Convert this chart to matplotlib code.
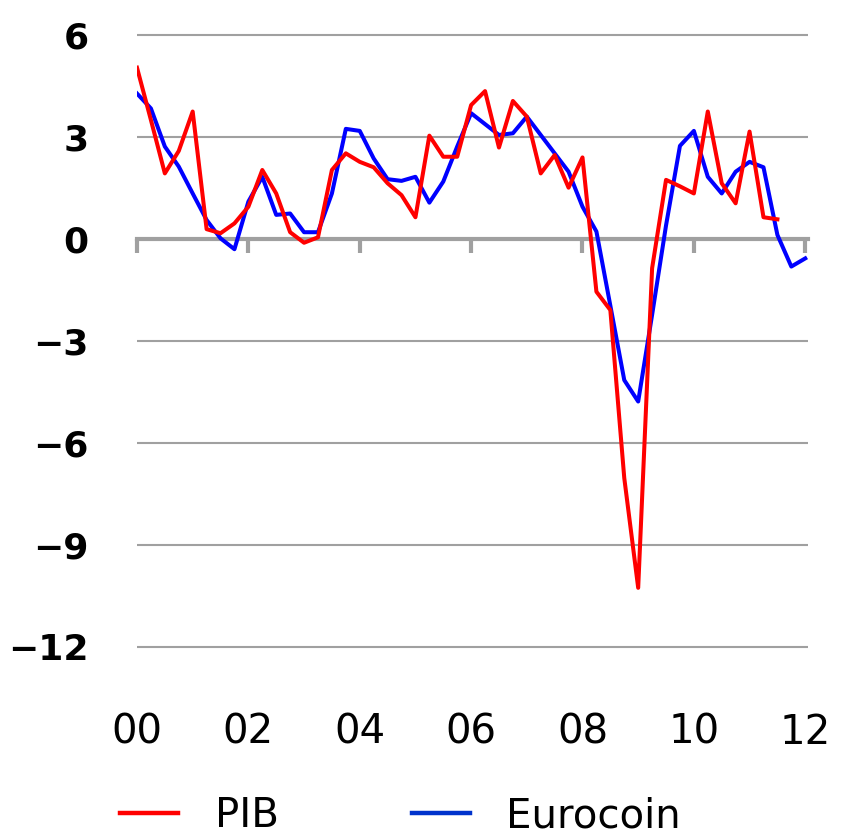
import numpy as np
import matplotlib
matplotlib.use('Agg')
import matplotlib.pyplot as plt
from matplotlib.lines import Line2D

# quarterly data, starting 2000 Q1
pib = [5.04, 3.5, 1.93, 2.59,
       3.75, 0.29, 0.17, 0.46,
       0.95, 2.03, 1.34, 0.2,
       -0.11, 0.05, 2.03, 2.52,
       2.27, 2.11, 1.64, 1.29,
       0.64, 3.04, 2.42, 2.42,
       3.94, 4.35, 2.69, 4.06,
       3.6, 1.93, 2.47, 1.51,
       2.4, -1.55, -2.09, -7.03,
       -10.26, -0.86, 1.74, 1.55,
       1.34, 3.75, 1.64, 1.05,
       3.16, 0.64, 0.58]
eurocoin = [4.28, 3.84, 2.72, 2.13,
            1.34, 0.56, 0.02, -0.3,
            1.1, 1.83, 0.71, 0.75,
            0.2, 0.2, 1.34, 3.24,
            3.18, 2.37, 1.76, 1.71,
            1.83, 1.07, 1.69, 2.72,
            3.7, 3.38, 3.06, 3.11,
            3.6, 3.06, 2.52, 1.98,
            0.95, 0.22, -1.96, -4.15,
            -4.78, -2.23, 0.4, 2.74,
            3.18, 1.83, 1.34, 1.98,
            2.27, 2.11, 0.12, -0.81,
            -0.57]
start_year = 2000
yticks = [6, 3, 0, -3, -6, -9, -12]
xtick_years = [2000, 2002, 2004, 2006, 2008, 2010, 2012]
xtick_labels = ['00', '02', '04', '06', '08', '10', '12']

x_pib = start_year + np.arange(len(pib)) / 4
x_euro = start_year + np.arange(len(eurocoin)) / 4

grey = '#a0a0a0'

fig = plt.figure(figsize=(8.41, 8.36), dpi=100)
ax = fig.add_axes([0.1629, 0.2139, 0.7979, 0.7564])

for v in yticks:
    if v != 0:
        ax.axhline(v, color=grey, lw=1.5, zorder=1)

ax.plot(x_euro, eurocoin, color='#0000ff', lw=2.9, zorder=3)
ax.plot(x_pib, pib, color='#ff0000', lw=2.9, zorder=4)

ax.set_xlim(2000, 2012.05)
ax.set_ylim(-12.3, 6.3)

for s in ['top', 'right', 'left']:
    ax.spines[s].set_visible(False)
ax.spines['bottom'].set_position(('data', 0))
ax.spines['bottom'].set_color(grey)
ax.spines['bottom'].set_linewidth(3)
ax.spines['bottom'].set_zorder(2)
ax.set_xticks(xtick_years)
ax.tick_params(axis='x', direction='out', length=10, width=3, color=grey,
               labelbottom=False)

ax.set_yticks(yticks)
ax.set_yticklabels([str(v).replace('-', '\u2212') for v in yticks],
                   fontsize=26, fontweight='bold')
ax.tick_params(axis='y', length=0, pad=35)

sec = ax.secondary_xaxis('bottom')
sec.set_xticks(xtick_years)
sec.set_xticklabels(xtick_labels, fontsize=29)
sec.tick_params(length=0, pad=40)
sec.spines['bottom'].set_visible(False)

handles = [Line2D([], [], color='#ff0000', lw=3.2),
           Line2D([], [], color='#0033cc', lw=3.2)]
fig.legend(handles, ['PIB', 'Eurocoin'], loc='center left',
           bbox_to_anchor=(120 / 841, 1 - 816 / 836), ncol=2, frameon=False,
           fontsize=29, handlelength=1.45, handletextpad=0.9,
           columnspacing=3.3, borderpad=0, borderaxespad=0)

fig.savefig('out.png', dpi=100)
